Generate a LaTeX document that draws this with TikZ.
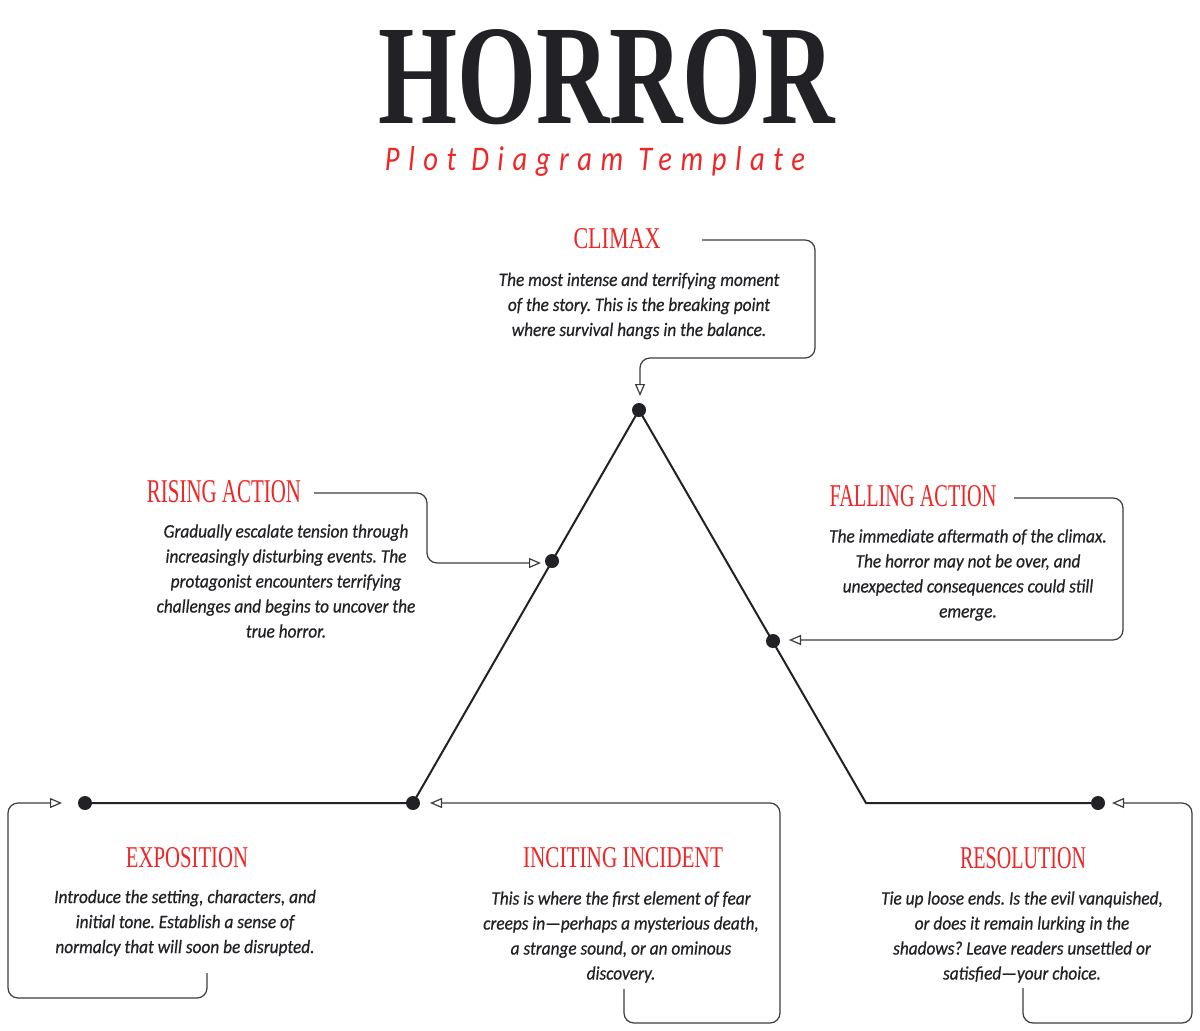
\documentclass[tikz,border=0pt]{standalone}
\usepackage{fontspec}
\usepackage{graphicx}
\usetikzlibrary{arrows.meta}
\setmainfont{Carlito}
\newfontfamily\bodyfont{Carlito}[FakeStretch=0.91,FakeBold=0.6]
\newfontfamily\headfont{Liberation Serif}
\newfontfamily\titlefont{Liberation Serif}
\newfontfamily\subfont{Carlito}[LetterSpace=30]
\definecolor{hred}{RGB}{240,38,38}
\definecolor{ink}{RGB}{34,34,38}
\definecolor{connc}{RGB}{60,60,64}
\frenchspacing
\begin{document}
\begin{tikzpicture}[x=1pt,y=-1pt,
  dotnode/.style={circle, fill=ink, inner sep=0pt, minimum size=14pt},
  plotline/.style={draw=ink, line width=2pt, line join=miter},
  conn/.style={draw=connc, line width=1.2pt, rounded corners=10pt, -{Triangle[open, length=12pt, width=10pt]}},
  head/.style={text=hred, inner sep=0pt, anchor=base},
  body/.style={text=ink, align=center, inner sep=0pt, font=\bodyfont\itshape\fontsize{19}{25}\selectfont}]
\useasboundingbox (0,0) rectangle (1200,1031);
\fill[white] (0,0) rectangle (1200,1031);

% title
\node[text=ink, inner sep=0pt] (title) at (606.5,77) {\resizebox{457pt}{94pt}{\titlefont\bfseries HORROR}};
\node[text=hred, inner sep=0pt, anchor=base] (sub) at (595,170) {\resizebox{420pt}{24pt}{\subfont\itshape Plot Diagram Template}};

% plot points
\node[dotnode] (expo) at (85,803) {};
\node[dotnode] (inc) at (413,803) {};
\node[dotnode] (rise) at (552,561) {};
\node[dotnode] (clim) at (639,410) {};
\node[dotnode] (fall) at (773,641) {};
\coordinate (corner) at (866,803);
\node[dotnode] (reso) at (1098,803) {};
\draw[plotline] (expo.center) -- (inc.center) -- (clim.center) -- (corner) -- (reso.center);

% headings
\node[head] (climH) at (617,248) {\resizebox{87pt}{20pt}{\headfont CLIMAX}};
\node[head] (riseH) at (224,502) {\resizebox{154pt}{22pt}{\headfont RISING ACTION}};
\node[head] (fallH) at (913,506) {\resizebox{167pt}{21pt}{\headfont FALLING ACTION}};
\node[head] (expoH) at (187,867) {\resizebox{122pt}{20pt}{\headfont EXPOSITION}};
\node[head] (incH) at (623,867) {\resizebox{200pt}{20pt}{\headfont INCITING INCIDENT}};
\node[head] (resoH) at (1023,868) {\resizebox{126pt}{21pt}{\headfont RESOLUTION}};

% body texts
\node[body] (climT) at (639,306) {The most intense and terrifying moment\\of the story. This is the breaking point\\where survival hangs in the balance.};
\node[body] (riseT) at (286,581) {Gradually escalate tension through\\increasingly disturbing events. The\\protagonist encounters terrifying\\challenges and begins to uncover the\\true horror.};
\node[body] (fallT) at (968,575) {The immediate aftermath of the climax.\\The horror may not be over, and\\unexpected consequences could still\\emerge.};
\node[body] (expoT) at (185,923) {Introduce the setting, characters, and\\initial tone. Establish a sense of\\normalcy that will soon be disrupted.};
\node[body] (incT) at (621,937) {This is where the first element of fear\\creeps in—perhaps a mysterious death,\\a strange sound, or an ominous\\discovery.};
\node[body] (resoT) at (1022,937) {Tie up loose ends. Is the evil vanquished,\\or does it remain lurking in the\\shadows? Leave readers unsettled or\\satisfied—your choice.};

% connectors
\coordinate (climS) at (702,240);
\coordinate (climE) at (640,396);
\draw[conn] (climS) -- (815,240) -- (815,358) -- (640,358) -- (climE);

\coordinate (riseS) at (314,493);
\coordinate (riseE) at (541,563);
\draw[conn] (riseS) -- (427,493) -- (427,563) -- (riseE);

\coordinate (fallS) at (1014,498);
\coordinate (fallE) at (789,640);
\draw[conn] (fallS) -- (1123,498) -- (1123,640) -- (fallE);

\coordinate (expoS) at (207,973);
\coordinate (expoE) at (62,803);
\draw[conn] (expoS) -- (207,998) -- (8,998) -- (8,803) -- (expoE);

\coordinate (incS) at (624,989);
\coordinate (incE) at (430,803);
\draw[conn] (incS) -- (624,1023) -- (780,1023) -- (780,803) -- (incE);

\coordinate (resoS) at (1023,988);
\coordinate (resoE) at (1112,803);
\draw[conn] (resoS) -- (1023,1023) -- (1192,1023) -- (1192,803) -- (resoE);
\end{tikzpicture}
\end{document}
